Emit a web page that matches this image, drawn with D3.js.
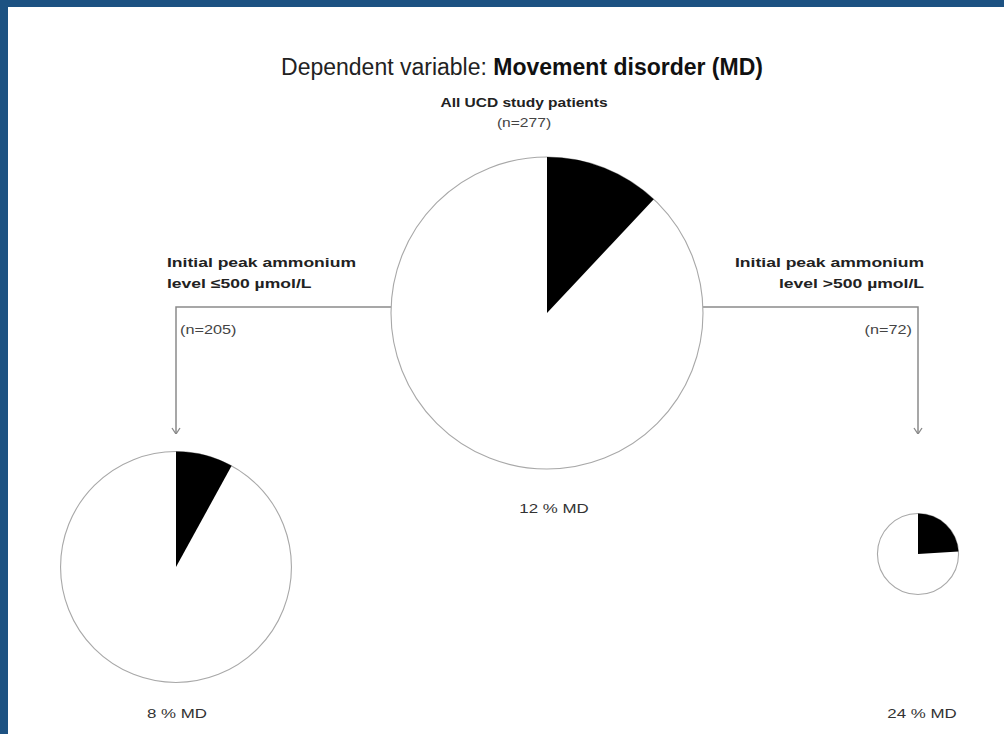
<!DOCTYPE html>
<html>
<head>
<meta charset="utf-8">
<script src="https://cdn.jsdelivr.net/npm/d3@7"></script>
<style>
  html, body { margin: 0; padding: 0; background: #fff; }
  body { width: 1004px; height: 734px; overflow: hidden; position: relative; }
  .frame-top { position: absolute; left: 0; top: 0; width: 1004px; height: 7px; background: #1d5282; }
  .frame-left { position: absolute; left: 0; top: 0; width: 8px; height: 734px; background: #1d5282; }
  svg { position: absolute; left: 0; top: 0; font-family: "Liberation Sans", Arial, sans-serif; }
</style>
</head>
<body>
<div class="frame-top"></div>
<div class="frame-left"></div>
<div id="chart"></div>
<script>
// data
const groupKeys = ["low", "all", "high"];
const groupTitles = [
  ["Initial peak ammonium", "level \u2264500 \u00b5mol/L"],
  ["All UCD study patients"],
  ["Initial peak ammonium", "level >500 \u00b5mol/L"]
];
const nPatients = [205, 277, 72];
const mdPercent = [8, 12, 24];

const width = 1004, height = 734;

const svg = d3.select('#chart').append('svg')
  .attr('width', width)
  .attr('height', height);

// wide-looking small text (the original labels are stretched horizontally)
function label(x, y, str, opt) {
  return svg.append('text')
    .attr('transform', `translate(${x},${y}) scale(${opt.sx || 1},1)`)
    .attr('text-anchor', opt.anchor || 'middle')
    .attr('font-size', opt.size || 13)
    .attr('font-weight', opt.bold ? 'bold' : null)
    .attr('fill', opt.fill || '#333')
    .text(str);
}

// layout
const xPos = d3.scalePoint().domain(groupKeys).range([176, 918]);
const yPos = { low: 567, all: 313, high: 554 };
const rScale = d3.scaleLinear().domain([0, 277]).range([0, 156]);

const nodes = groupKeys.map((k, i) => ({
  key: k,
  n: nPatients[i],
  md: mdPercent[i],
  title: groupTitles[i],
  x: xPos(k),
  y: yPos[k],
  r: rScale(nPatients[i])
}));
const root = nodes[1];

// title
const title = svg.append('text')
  .attr('x', 522).attr('y', 75)
  .attr('text-anchor', 'middle')
  .attr('font-size', 23)
  .attr('fill', '#222');
title.append('tspan').text('Dependent variable: ');
title.append('tspan').attr('font-weight', 'bold').attr('fill', '#111').text('Movement disorder (MD)');

label(524, 107, root.title[0], { size: 13.5, bold: true, sx: 1.15, fill: '#222' });
label(524, 127, `(n=${root.n})`, { size: 12.5, sx: 1.25, fill: '#444' });

// arrow marker
svg.append('defs').append('marker')
  .attr('id', 'arr')
  .attr('viewBox', '0 0 10 10')
  .attr('refX', 10).attr('refY', 5)
  .attr('markerWidth', 10).attr('markerHeight', 10)
  .attr('markerUnits', 'userSpaceOnUse')
  .attr('orient', 'auto')
  .append('path')
  .attr('d', 'M4,1 L10,5 L4,9')
  .attr('fill', 'none')
  .attr('stroke', '#888')
  .attr('stroke-width', 1.3);

// connectors
const lineY = 307, arrowY = 434;
[nodes[0], nodes[2]].forEach(d => {
  const dir = d.x < root.x ? -1 : 1;
  const x0 = root.x + dir * Math.sqrt(root.r * root.r - (lineY - root.y) ** 2);
  svg.append('path')
    .attr('d', `M${x0},${lineY} H${d.x} V${arrowY}`)
    .attr('fill', 'none')
    .attr('stroke', '#8a8a8a')
    .attr('stroke-width', 1.5)
    .attr('marker-end', 'url(#arr)');

  const anchor = dir < 0 ? 'start' : 'end';
  const tx = dir < 0 ? 167 : 924;
  d.title.forEach((t, i) => {
    label(tx, 267 + i * 21, t, { size: 13.5, bold: true, sx: 1.3, anchor, fill: '#222' });
  });
  label(dir < 0 ? 180 : 912, 334, `(n=${d.n})`, { size: 12.5, sx: 1.3, anchor, fill: '#444' });
});

// pies
const pie = d3.pie().sort(null).value(v => v);
nodes.forEach(d => {
  const g = svg.append('g').attr('transform', `translate(${d.x},${d.y})`);
  const arc = d3.arc().innerRadius(0).outerRadius(d.r);
  g.append('circle')
    .attr('r', d.r)
    .attr('fill', '#fff')
    .attr('stroke', '#a8a8a8')
    .attr('stroke-width', 1.1);
  g.selectAll('path')
    .data(pie([d.md, 100 - d.md]))
    .enter().append('path')
    .attr('d', arc)
    .attr('fill', (p, i) => i === 0 ? '#000' : 'none')
    .attr('stroke', 'none');
});

// percentage labels
const labelY = { low: 718, all: 513, high: 718 };
nodes.forEach(d => {
  const x = d.key === 'all' ? 554 : d.x + (d.key === 'high' ? 4 : 1);
  label(x, labelY[d.key], `${d.md} % MD`, { size: 13, sx: 1.3, fill: '#333' });
});
</script>
</body>
</html>
